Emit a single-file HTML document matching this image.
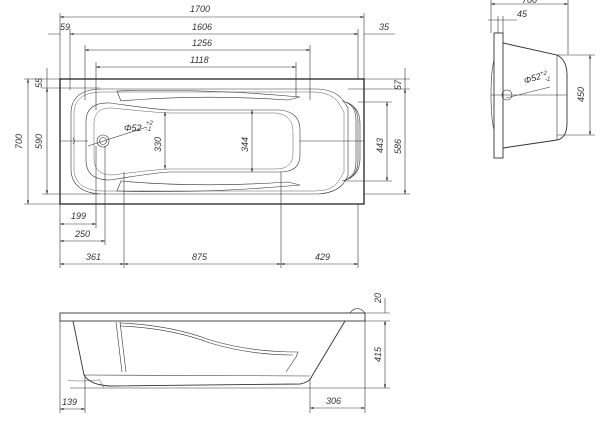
<!DOCTYPE html>
<html><head><meta charset="utf-8"><style>
html,body{margin:0;padding:0;background:#fff;width:610px;height:424px;overflow:hidden}
svg text{font-family:"Liberation Sans",sans-serif;font-size:9px;font-style:italic;fill:#333}
</style></head><body>
<svg width="610" height="424" viewBox="0 0 610 424" xmlns="http://www.w3.org/2000/svg">
<defs>
<marker id="a" viewBox="0 0 10 10" refX="10" refY="5" markerWidth="6" markerHeight="6" orient="auto-start-reverse"><path d="M0,2L10,5L0,8z" fill="#222"/></marker>
</defs>
<g stroke="#333" stroke-width="0.6" fill="none">
<!-- TOP PLAN -->
<rect x="60" y="79" width="304" height="125" stroke-width="1.2" stroke="#111"/>
<!-- outer bowl -->
<path d="M100,89 L318,89 Q335,90 343,100 L348,108 L348,176 L343,184 Q335,193 318,194 L100,194 Q72,192 71,170 L71,112 Q72,90 100,89Z"/>
<path d="M100,92 L315,92 Q332,93 338,102 L344,112 L344,172 L338,182 Q332,191 315,191 L100,191 Q75,189 74,170 L74,112 Q75,93 100,92Z" stroke-width="0.4"/>
<!-- inner -->
<path d="M110,103 Q160,110 170,110 L280,110 Q300,112 300,130 L300,155 Q300,172 280,172 L170,172 Q160,172 110,180 Q86,180 86,160 L86,122 Q86,102 110,103Z"/>
<path d="M112,108 Q160,113 170,113 L276,113 Q293,115 293,132 L293,153 Q293,169 276,169 L170,169 Q160,169 112,175 Q94,175 94,158 L94,124 Q94,107 112,108Z" stroke-width="0.4"/>
<!-- armrests -->
<path d="M117,91 Q200,88 300,97 L288,100 Q200,94 121,101Z"/>
<path d="M117,191 Q200,194 300,185 L288,182 Q200,188 121,181Z"/>
<!-- headrest -->
<path d="M342,101 Q356,104 356,120 L356,162 Q356,178 342,181"/>
<path d="M346,102 Q358,106 358,122 L358,160 Q358,176 346,180"/>
<path d="M349,104 Q360,108 360,124 L360,158 Q360,174 349,178"/>
<!-- drain -->
<circle cx="103" cy="141" r="6"/><circle cx="103" cy="141" r="3.5"/>
<path d="M73,138 q3,3 0,6"/>
<!-- center lines -->
<path d="M60,141 L88,141 M300,141 L364,141 M88,146 L147,127"/>
<!-- extension lines top -->
<path d="M60,79 L60,13 M364,79 L364,13 M70,90 L70,29 M358,79 L358,29 M85,100 L85,45 M310,100 L310,45 M96,110 L96,62 M296,97 L296,62 M364,34 L395,34 M48,34 L60,34"/>
<g marker-start="url(#a)" marker-end="url(#a)">
<path d="M60,17 L364,17"/>
<path d="M70,34 L358,34"/>
<path d="M85,50 L310,50"/>
<path d="M96,67 L296,67"/>
<path d="M28,79 L28,204"/>
<path d="M47,88 L47,194"/>
<path d="M405,89 L405,194"/>
<path d="M387,102 L387,181"/>
<path d="M165,112 L165,169"/>
<path d="M252,110 L252,172"/>
<path d="M60,224 L96,224"/>
<path d="M60,241 L105,241"/>
<path d="M60,264 L124,264"/>
<path d="M124,264 L281,264"/>
<path d="M281,264 L358,264"/>
</g>
<path d="M47,68 L47,88 M405,68 L405,89"/>
<!-- ext lines left/right -->
<path d="M24,79 L60,79 M24,204 L60,204 M42,88 L100,88 M42,194 L100,194 M364,79 L410,79 M348,89 L410,89 M364,194 L410,194 M358,102 L392,102 M344,181 L392,181"/>
<path d="M60,204 L60,268 M96,146 L96,228 M105,146 L105,245 M124,172 L124,268 M281,172 L281,268 M358,204 L358,268"/>
<!-- SIDE VIEW -->
<rect x="494" y="33" width="9" height="125" stroke-width="0.9"/>
<path d="M494,60 Q491,72 491,95 Q491,118 494,130"/>
<path d="M503,43 L557,55 Q567,60 567,75 L567,123 Q567,138 557,140 L503,148" stroke-width="0.9"/>
<path d="M557,55 L557,140"/>
<path d="M491,95 L567,95 M506,98 L550,87"/>
<circle cx="507" cy="95" r="5"/>
<path d="M491,0 L491,33 M568,0 L568,55 M488,20 L517,20 M498,16 L498,33 M503,16 L503,33 M557,55 L595,55 M557,135 L595,135"/>
<g marker-start="url(#a)" marker-end="url(#a)">
<path d="M491,4 L568,4"/>
<path d="M590,55 L590,135"/>
</g>
<!-- FRONT VIEW -->
<rect x="60" y="313" width="305" height="8" stroke-width="0.9"/>
<path d="M350,313 Q355,306 362,310 L365,313"/>
<path d="M73,321 L84,375 Q90,385 110,386 L300,384 Q310,382 312,376 L345,321" stroke-width="0.9"/>
<path d="M84,375 L310,376"/>
<path d="M116,322 L122,372 M120,322 L126,372"/>
<path d="M120,323 Q170,325 210,340 Q250,352 298,352 L296,357 L286,372 M120,326 Q170,328 210,343 Q250,355 293,355"/>
<path d="M99,379 L104,388 M99,380 Q75,382 68,380" stroke-width="0.4"/>
<path d="M365,313 L390,313 M365,321 L390,321 M70,388 L390,388 M60,321 L60,413 M85,375 L85,413 M310,378 L310,413 M365,321 L365,413"/>
<g marker-start="url(#a)" marker-end="url(#a)">
<path d="M385,321 L385,388"/>
<path d="M60,409 L85,409"/>
<path d="M310,408 L365,408"/>
</g>
<path d="M385,298 L385,313"/>
</g>
<g>
<text x="190" y="12">1700</text>
<text x="192" y="30">1606</text>
<text x="60" y="30">59</text>
<text x="379" y="30">35</text>
<text x="192" y="46">1256</text>
<text x="190" y="63">1118</text>
<text x="71" y="219">199</text>
<text x="75" y="237">250</text>
<text x="86" y="260">361</text>
<text x="192" y="260">875</text>
<text x="315" y="260">429</text>
<text x="124" y="131">Φ52</text>
<text x="146" y="125" style="font-size:6px">+2</text>
<text x="146" y="131" style="font-size:6px">-1</text>
<text x="525" y="84" transform="rotate(-18 525 84)">Φ52</text>
<text x="540" y="75" style="font-size:6px">+2</text>
<text x="545" y="81" style="font-size:6px">-1</text>
<text x="517" y="17">45</text>
<text x="522" y="3">700</text>
<text transform="translate(22,149) rotate(-90)">700</text>
<text transform="translate(42,149) rotate(-90)">590</text>
<text transform="translate(42,88) rotate(-90)">55</text>
<text transform="translate(161,152) rotate(-90)">330</text>
<text transform="translate(248,152) rotate(-90)">344</text>
<text transform="translate(383,153) rotate(-90)">443</text>
<text transform="translate(401,154) rotate(-90)">586</text>
<text transform="translate(401,90) rotate(-90)">57</text>
<text transform="translate(584,102) rotate(-90)">450</text>
<text transform="translate(381,362) rotate(-90)">415</text>
<text transform="translate(381,303) rotate(-90)">20</text>
<text x="62" y="405">139</text>
<text x="326" y="404">306</text>
</g>
</svg>
</body></html>
